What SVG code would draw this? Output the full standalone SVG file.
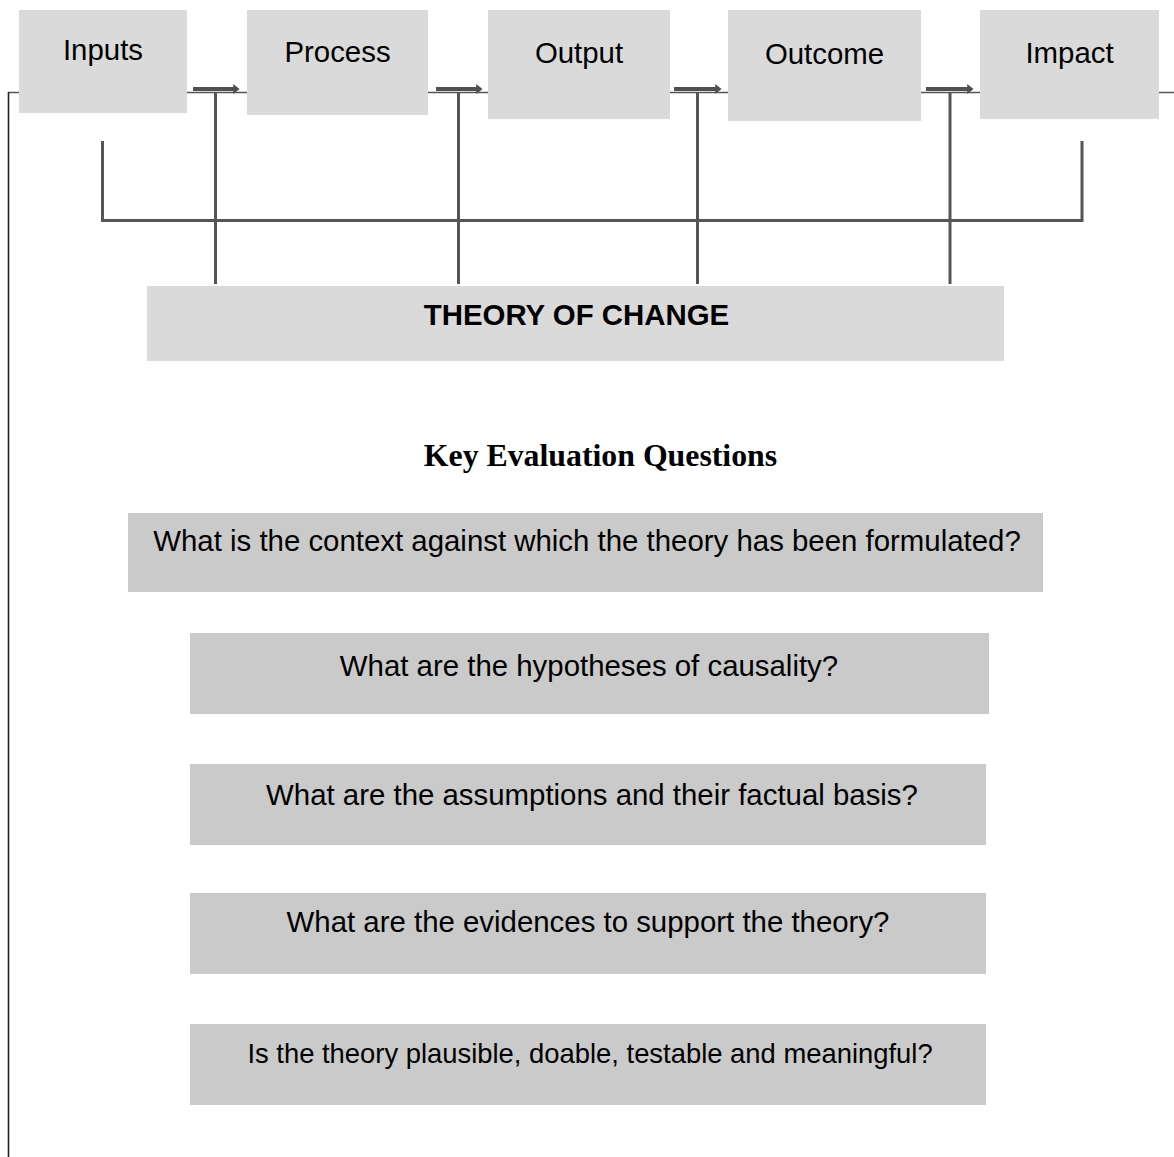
<svg xmlns="http://www.w3.org/2000/svg" width="1174" height="1157" viewBox="0 0 1174 1157">
  <style>
    .stage { fill: #dadada; }
    .question { fill: #cacaca; }
    .label { font-family: "Liberation Sans", Arial, sans-serif; font-size: 29.4px; fill: #000; text-anchor: middle; }
    .bold { font-weight: bold; }
    .small { font-size: 27.4px; }
    .heading { font-family: "Liberation Serif", "Times New Roman", serif; font-size: 31.8px; font-weight: bold; fill: #000; text-anchor: middle; }
    .wire { stroke: #555; fill: none; }
    .bar { stroke: #505050; stroke-width: 4; fill: none; }
    .head { fill: #505050; }
  </style>
  <defs>
    <marker id="arrowhead" markerWidth="2" markerHeight="2.5" refX="0.2" refY="1.25" orient="auto" markerUnits="strokeWidth">
      <path class="head" d="M0,0 L1.6,1.25 L0,2.5 Z"/>
    </marker>
  </defs>

  <!-- frame lines behind the stage boxes -->
  <g id="connectors">
    <line class="wire" x1="8" y1="92.5" x2="1174" y2="92.5" stroke-width="1.5"/>
    <line x1="8.5" y1="92" x2="8.5" y2="1157" stroke="#222" stroke-width="1.6"/>
    <!-- arrows between stages -->
    <line class="bar" x1="193" y1="89" x2="234" y2="89" marker-end="url(#arrowhead)"/>
    <line class="bar" x1="436" y1="89" x2="477" y2="89" marker-end="url(#arrowhead)"/>
    <line class="bar" x1="674" y1="89" x2="716" y2="89" marker-end="url(#arrowhead)"/>
    <line class="bar" x1="926" y1="89" x2="968" y2="89" marker-end="url(#arrowhead)"/>
    <!-- stems down to the theory box -->
    <line class="wire" x1="215.5" y1="92" x2="215.5" y2="284" stroke-width="3"/>
    <line class="wire" x1="458.5" y1="92" x2="458.5" y2="284" stroke-width="3"/>
    <line class="wire" x1="697.5" y1="92" x2="697.5" y2="284" stroke-width="3"/>
    <line class="wire" x1="950" y1="92" x2="950" y2="284" stroke-width="3"/>
    <!-- bracket spanning inputs to impact -->
    <path class="wire" d="M102.5,141 V220.5 H1082 V141" stroke-width="3"/>
  </g>

  <g id="inputs">
    <rect class="stage" x="19" y="10" width="168" height="103"/>
    <text class="label" x="103" y="60">Inputs</text>
  </g>
  <g id="process">
    <rect class="stage" x="247" y="10" width="181" height="105"/>
    <text class="label" x="337.5" y="61.5">Process</text>
  </g>
  <g id="output">
    <rect class="stage" x="488" y="10" width="182" height="109"/>
    <text class="label" x="579" y="62.5">Output</text>
  </g>
  <g id="outcome">
    <rect class="stage" x="728" y="10" width="193" height="111"/>
    <text class="label" x="824.5" y="64">Outcome</text>
  </g>
  <g id="impact">
    <rect class="stage" x="980" y="10" width="179" height="109"/>
    <text class="label" x="1069.5" y="63">Impact</text>
  </g>

  <g id="theory-of-change">
    <rect class="stage" x="147" y="286" width="857" height="75"/>
    <text class="label bold" x="576.5" y="325">THEORY OF CHANGE</text>
  </g>

  <g id="key-questions-heading">
    <text class="heading" x="600.5" y="466">Key Evaluation Questions</text>
  </g>

  <g id="q-context">
    <rect class="question" x="128" y="513" width="915" height="79"/>
    <text class="label" x="587" y="551">What is the context against which the theory has been formulated?</text>
  </g>
  <g id="q-hypotheses">
    <rect class="question" x="190" y="633" width="799" height="81"/>
    <text class="label" x="589" y="676">What are the hypotheses of causality?</text>
  </g>
  <g id="q-assumptions">
    <rect class="question" x="190" y="764" width="796" height="81"/>
    <text class="label" x="592" y="805">What are the assumptions and their factual basis?</text>
  </g>
  <g id="q-evidence">
    <rect class="question" x="190" y="893" width="796" height="81"/>
    <text class="label" x="588" y="932">What are the evidences to support the theory?</text>
  </g>
  <g id="q-plausible">
    <rect class="question" x="190" y="1024" width="796" height="81"/>
    <text class="label small" x="590" y="1063">Is the theory plausible, doable, testable and meaningful?</text>
  </g>
</svg>
